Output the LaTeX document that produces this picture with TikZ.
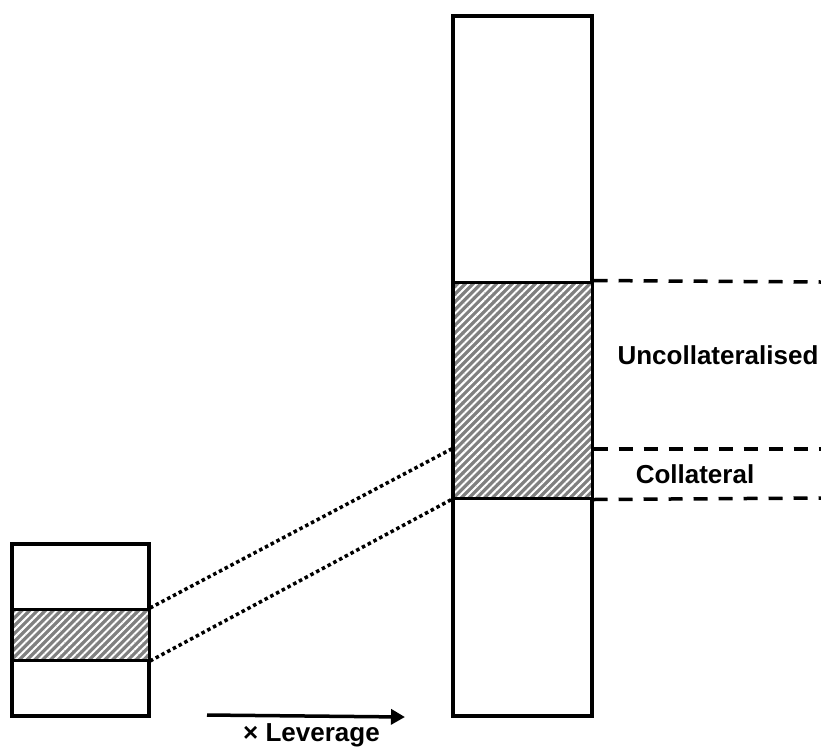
\documentclass[tikz,border=0pt]{standalone}
\usepackage{fontspec}
\setmainfont{Liberation Sans}
\usetikzlibrary{patterns.meta,positioning,arrows.meta}

\begin{document}
\begin{tikzpicture}
    [x=1pt, y=-1pt,
    >={Triangle[length=14pt,width=15pt]},
    box/.style={
      rectangle,
      inner sep=0pt,
      draw=black,
      line width=3.5pt},
    band/.style={
      rectangle,
      inner sep=0pt,
      draw=black,
      line width=3pt,
      preaction={fill=black!50},
      pattern={Lines[angle=45,distance=5.5pt,line width=2pt]},
      pattern color=white},
    level/.style={line width=3.5pt, dash pattern=on 14pt off 11pt},
    link/.style={line width=3.5pt, dash pattern=on 3.5pt off 3pt},
    label/.style={font=\bfseries\fontsize{26}{30}\selectfont, inner sep=0pt}
    ]
    \useasboundingbox (0,0) rectangle (821,753);
    \node (small) [box, minimum width=137, minimum height=172] at (80.5,630) {};
    \node (smallband) [band, minimum width=137, minimum height=51] at (80.5,634.5) {};
    \node (big) [box, minimum width=139, minimum height=700] at (522.5,366) {};
    \node (bigband) [band, minimum width=139, minimum height=216] at (522.5,390) {};
    \coordinate (colltop) at (bigband.west |- 0,449);
    \coordinate (collend) at (bigband.east |- 0,449);
    \coordinate (edge1) at (821,282);
    \coordinate (edge2) at (821,449);
    \coordinate (edge3) at (821,498);
    \draw[level] (bigband.north east) -- (edge1);
    \draw[level] (collend) -- (edge2);
    \draw[level] (bigband.south east) -- (edge3);
    \node (uncoll) [label] at (718,355) {Uncollateralised};
    \node (coll) [label] at (695,474) {Collateral};
    \draw[link] (smallband.north east) -- (colltop);
    \draw[link] (smallband.south east) -- (bigband.south west);
    \coordinate (from) at (207,715);
    \coordinate (to) at (405,717);
    \draw[->, line width=3.5pt] (from) -- (to);
    \node (lev) [label, below=8pt of from, anchor=north west, xshift=36pt] {× Leverage};
  \end{tikzpicture}
\end{document}
